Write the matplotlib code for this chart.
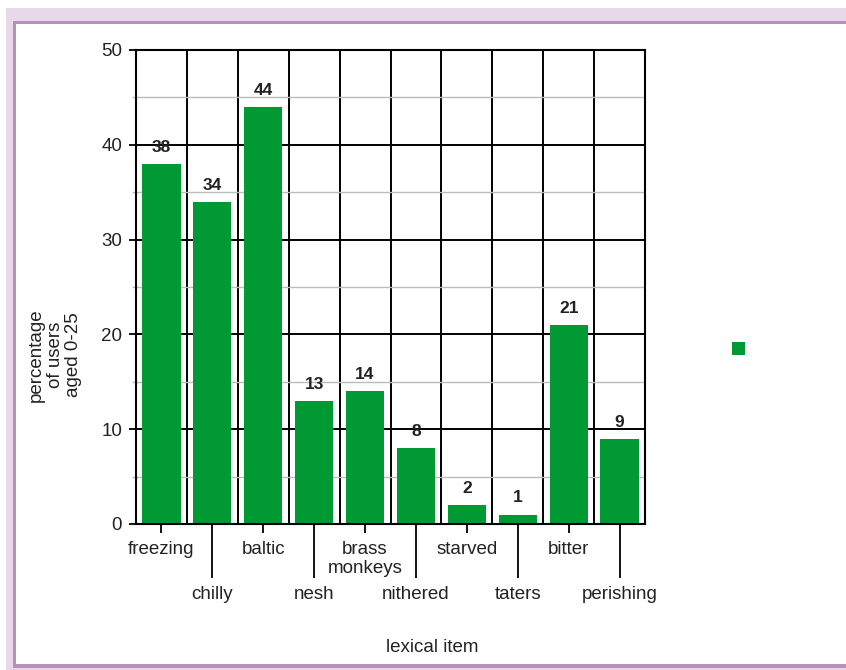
import numpy as np
import matplotlib
matplotlib.use("Agg")
import matplotlib.pyplot as plt
from matplotlib.patches import Rectangle
from matplotlib.ticker import FixedLocator, MultipleLocator

items = ["freezing", "chilly", "baltic", "nesh", "brass\nmonkeys",
         "nithered", "starved", "taters", "bitter", "perishing"]
values = [38, 34, 44, 13, 14, 8, 2, 1, 21, 9]

GREEN = "#009933"
TXT = "#222222"
FS = 13.5

plt.rcParams["font.family"] = ["Liberation Sans", "DejaVu Sans"]
plt.rcParams["font.size"] = FS

fig = plt.figure(figsize=(8.46, 6.70), dpi=100)
W, H = 846, 670

# purple frame around the panel
def px_rect(x0, y0, x1, y1, color):
    fig.patches.append(Rectangle((x0 / W, 1 - y1 / H), (x1 - x0) / W, (y1 - y0) / H,
                                 transform=fig.transFigure, color=color, lw=0, zorder=0))

light, dark = "#e8d8e8", "#b890b8"
px_rect(6, 8, 846, 22, light)
px_rect(6, 8, 13, 670, light)
px_rect(13, 21, 846, 24, dark)
px_rect(13, 21, 16, 668, dark)
px_rect(13, 664, 846, 668, dark)
px_rect(6, 668, 846, 670, light)

ax = fig.add_axes([136 / W, 1 - 524 / H, (645 - 136) / W, (524 - 50) / H])
x = np.arange(len(items))
ax.bar(x, values, width=0.75, color=GREEN, zorder=3)
for xi, v in zip(x, values):
    ax.annotate(str(v), (xi, v), xytext=(0, 6.5), textcoords="offset points",
                ha="center", va="bottom", fontsize=12.5, fontweight="bold", color=TXT)

ax.set_xlim(-0.5, len(items) - 0.5)
ax.set_ylim(0, 50)

# category boundaries
for b in x[:-1] + 0.5:
    ax.axvline(b, color="black", lw=1.4, zorder=1)
ax.yaxis.set_major_locator(MultipleLocator(10))
ax.yaxis.set_minor_locator(MultipleLocator(5))
ax.grid(axis="y", which="major", color="black", lw=1.4, zorder=1)
ax.grid(axis="y", which="minor", color="#bbbbbb", lw=1.0, zorder=1)

# alternating x labels: even ones close, odd ones dropped on long ticks
ax.xaxis.set_major_locator(FixedLocator(x[::2]))
ax.xaxis.set_minor_locator(FixedLocator(x[1::2]))
ax.set_xticklabels(items[::2])
ax.set_xticklabels(items[1::2], minor=True)
for lbl in ax.get_xticklabels() + ax.get_xticklabels(minor=True):
    lbl.set_linespacing(1.15)
ax.tick_params(axis="x", which="major", length=6.5, width=1.3, pad=5.5, labelsize=FS, labelcolor=TXT)
ax.tick_params(axis="x", which="minor", length=39, width=1.3, pad=5.5, labelsize=FS, labelcolor=TXT)
ax.tick_params(axis="y", which="major", direction="inout", length=10, width=1.3, pad=5,
               labelsize=FS, labelcolor=TXT)
ax.tick_params(axis="y", which="minor", length=3, width=1.0, color="#bbbbbb")

for s in ax.spines.values():
    s.set_linewidth(1.5)
    s.set_zorder(4)

fig.text(55 / W, 1 - 355 / H, "percentage\nof users\naged 0-25", rotation=90,
         ha="center", va="center", fontsize=FS, color=TXT, linespacing=1.15)
fig.text(432 / W, 1 - 648 / H, "lexical item", ha="center", va="center",
         fontsize=FS, color=TXT)

# legend swatch without text
fig.patches.append(Rectangle((732 / W, 1 - 355 / H), 13 / W, 13 / H,
                             transform=fig.transFigure, color=GREEN, lw=0))

fig.savefig("out.png", dpi=100)
